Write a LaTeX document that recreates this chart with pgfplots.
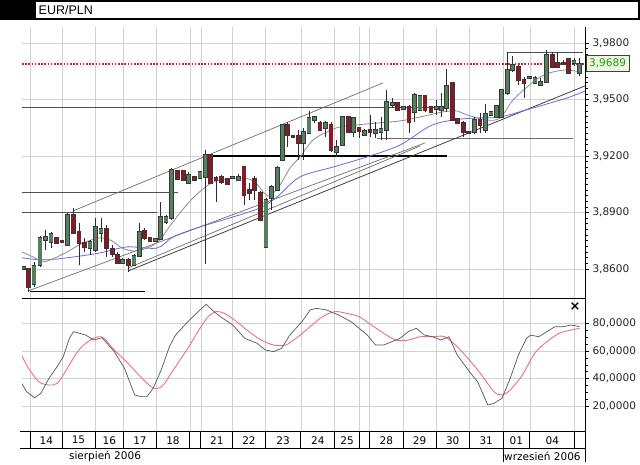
\documentclass[border=0pt]{standalone}
\usepackage{fontspec}
\setmainfont{DejaVu Sans}
\newfontfamily\titlefont{Liberation Sans}
\usepackage{pgfplots}
\usepackage{pgfplotstable}
\pgfplotsset{compat=1.18}
\definecolor{upg}{RGB}{86,128,92}
\definecolor{dnr}{RGB}{140,24,36}
\definecolor{outl}{RGB}{55,55,55}
\definecolor{wick}{RGB}{45,45,45}
\definecolor{gridc}{RGB}{210,210,210}
\definecolor{maGray}{RGB}{140,140,140}
\definecolor{maBlue}{RGB}{105,105,228}
\definecolor{trendc}{RGB}{110,110,110}
\definecolor{hlinec}{RGB}{80,80,80}
\definecolor{kcol}{RGB}{85,85,85}
\definecolor{dcol}{RGB}{235,115,115}
\definecolor{pricered}{RGB}{215,30,30}
\definecolor{boxfill}{RGB}{238,247,218}
\definecolor{boxtext}{RGB}{40,150,40}

% up candles: close >= open
\pgfplotstableread{
x o h l c
23.5 3.8600 3.8616 3.8595 3.8611
34.0 3.8520 3.8637 3.8504 3.8616
40.0 3.8621 3.8775 3.8611 3.8765
45.5 3.8754 3.8807 3.8701 3.8770
51.0 3.8743 3.8797 3.8711 3.8786
67.7 3.8728 3.8898 3.8722 3.8887
90.0 3.8711 3.8754 3.8675 3.8743
95.7 3.8701 3.8871 3.8690 3.8823
101.0 3.8791 3.8871 3.8743 3.8812
122.7 3.8632 3.8659 3.8627 3.8648
134.0 3.8621 3.8680 3.8616 3.8669
139.3 3.8669 3.8844 3.8664 3.8797
155.7 3.8749 3.8759 3.8743 3.8759
160.7 3.8759 3.8956 3.8754 3.8876
166.0 3.8850 3.8887 3.8839 3.8876
171.7 3.8871 3.9136 3.8860 3.9126
188.5 3.9057 3.9115 3.9051 3.9099
200.0 3.9083 3.9120 3.9078 3.9115
205.5 3.9089 3.9232 3.8627 3.9205
232.7 3.9083 3.9089 3.9083 3.9089
238.3 3.9073 3.9104 3.9067 3.9089
266.0 3.8717 3.8977 3.8717 3.8967
271.7 3.8977 3.9046 3.8914 3.9035
277.3 3.9020 3.9147 3.9020 3.9136
282.7 3.9179 3.9370 3.9179 3.9365
303.3 3.9269 3.9349 3.9179 3.9327
309.0 3.9322 3.9439 3.9317 3.9402
314.3 3.9391 3.9412 3.9375 3.9407
325.7 3.9349 3.9386 3.9301 3.9375
336.7 3.9221 3.9285 3.9195 3.9248
342.3 3.9258 3.9412 3.9253 3.9407
353.3 3.9327 3.9407 3.9301 3.9402
364.3 3.9311 3.9343 3.9306 3.9333
375.7 3.9322 3.9380 3.9295 3.9338
381.0 3.9327 3.9407 3.9285 3.9343
386.7 3.9338 3.9550 3.9285 3.9487
392.7 3.9471 3.9508 3.9455 3.9481
403.3 3.9450 3.9465 3.9444 3.9460
414.3 3.9434 3.9534 3.9380 3.9524
420.0 3.9444 3.9524 3.9439 3.9519
436.5 3.9450 3.9497 3.9418 3.9460
441.7 3.9444 3.9534 3.9407 3.9460
446.7 3.9455 3.9662 3.9434 3.9572
474.2 3.9327 3.9407 3.9317 3.9391
485.7 3.9338 3.9476 3.9322 3.9423
491.0 3.9418 3.9439 3.9412 3.9434
496.7 3.9407 3.9471 3.9402 3.9465
501.7 3.9407 3.9556 3.9402 3.9550
507.3 3.9534 3.9752 3.9524 3.9657
512.7 3.9657 3.9731 3.9646 3.9683
529.3 3.9614 3.9625 3.9609 3.9619
535.0 3.9588 3.9625 3.9582 3.9614
540.7 3.9577 3.9614 3.9572 3.9593
546.7 3.9593 3.9763 3.9588 3.9736
574.0 3.9694 3.9720 3.9678 3.9704
579.3 3.9641 3.9720 3.9625 3.9689
}\upc

% down candles: close < open
\pgfplotstableread{
x o h l c
28.3 3.8600 3.8605 3.8478 3.8504
56.5 3.8765 3.8770 3.8733 3.8738
62.0 3.8749 3.8749 3.8743 3.8743
73.3 3.8887 3.8924 3.8786 3.8791
79.0 3.8797 3.8844 3.8621 3.8738
84.3 3.8738 3.8765 3.8690 3.8717
106.7 3.8812 3.8834 3.8664 3.8711
112.3 3.8706 3.8728 3.8664 3.8680
117.7 3.8675 3.8690 3.8627 3.8632
128.3 3.8648 3.8659 3.8584 3.8621
144.5 3.8802 3.8818 3.8754 3.8765
150.0 3.8765 3.8770 3.8743 3.8749
177.5 3.9120 3.9126 3.9073 3.9078
183.3 3.9120 3.9126 3.9067 3.9073
194.3 3.9089 3.9094 3.9067 3.9073
210.7 3.9205 3.9211 3.9051 3.9057
216.0 3.9083 3.9094 3.8956 3.9073
221.7 3.9089 3.9099 3.9051 3.9062
227.3 3.9078 3.9083 3.9046 3.9051
244.0 3.9141 3.9147 3.8940 3.8993
249.3 3.9020 3.9057 3.8967 3.9004
254.3 3.9078 3.9094 3.8967 3.9020
260.7 3.9004 3.9014 3.8860 3.8860
287.7 3.9365 3.9380 3.9248 3.9311
293.0 3.9306 3.9311 3.9301 3.9301
298.3 3.9306 3.9338 3.9179 3.9269
320.0 3.9375 3.9386 3.9333 3.9338
331.0 3.9365 3.9380 3.9221 3.9232
348.3 3.9407 3.9412 3.9322 3.9327
359.0 3.9349 3.9354 3.9295 3.9333
370.0 3.9338 3.9418 3.9301 3.9327
397.7 3.9481 3.9487 3.9439 3.9444
409.0 3.9460 3.9471 3.9322 3.9380
425.0 3.9519 3.9524 3.9434 3.9444
431.0 3.9460 3.9465 3.9428 3.9434
452.3 3.9588 3.9593 3.9386 3.9391
457.7 3.9396 3.9402 3.9370 3.9375
463.3 3.9375 3.9386 3.9301 3.9327
468.3 3.9327 3.9333 3.9317 3.9322
480.0 3.9391 3.9428 3.9322 3.9365
518.3 3.9672 3.9683 3.9577 3.9603
524.0 3.9603 3.9619 3.9508 3.9588
552.3 3.9736 3.9752 3.9667 3.9672
557.3 3.9694 3.9752 3.9667 3.9672
563.3 3.9694 3.9710 3.9683 3.9688
568.3 3.9715 3.9720 3.9635 3.9641
}\dnc

\pgfplotsset{
  numfmt/.style={
    /pgf/number format/fixed, /pgf/number format/fixed zerofill,
    /pgf/number format/precision=4, /pgf/number format/use comma,
    /pgf/number format/1000 sep={}, /pgf/number format/assume math mode=true},
  bodyplot/.style 2 args={only marks, mark=*, mark size=0pt,
    mark options={draw opacity=0, fill opacity=0}, forget plot,
    error bars/.cd, y dir=plus, y explicit, error mark=none,
    error bar style={draw=#1, line width=#2, draw opacity=1}},
  panel/.style={scale only axis, width=563pt, xmin=22, xmax=585,
    axis line style={draw=none},
    xtick pos=bottom, ytick pos=right, yticklabel pos=right,
    tick align=outside, major tick length=4pt, minor tick length=2.5pt,
    ytick style={black, line width=0.5pt},
    major grid style={gridc, line width=0.6pt},
    yticklabel style={font=\fontsize{10.5}{12}\selectfont, text=black!85, numfmt}},
}

\begin{document}
\begin{tikzpicture}[x=1pt,y=1pt]
% title bar
\fill[black] (0,444) rectangle (640,464);
\fill[white] (36,446) rectangle (638,462);
\node[anchor=west, font=\titlefont\fontsize{12.5}{14}\selectfont, inner sep=0pt] at (38.5,454) {EUR/PLN};

\begin{axis}[panel,
  name=main, at={(22pt,165.5pt)}, anchor=south west,
  height=271.5pt, ymin=3.8443, ymax=3.98849,
  xtick={30.6,62,95,123.7,156.3,189.8,200.8,232.7,265.3,300.8,334.7,359.2,369.4,403.3,435.9,469.4,502.9,529.8,574.7},
  xticklabels={}, xtick style={draw=none},
  ytick={3.86,3.89,3.92,3.95,3.98}, minor y tick num=9,
  grid=major,
]
% horizontal support/resistance lines
\addplot[hlinec, line width=0.9pt] coordinates {(22,3.9455) (445,3.9455)};
\addplot[hlinec, line width=1.1pt] coordinates {(22,3.9004) (178,3.9004)};
\addplot[hlinec, line width=1.1pt] coordinates {(22,3.8898) (157,3.8898)};
\addplot[black, line width=1.1pt] coordinates {(30,3.8478) (145,3.8478)};
\addplot[black, line width=1.1pt] coordinates {(205,3.9200) (447,3.9200)};
\addplot[trendc, line width=0.9pt] coordinates {(377,3.9295) (573,3.9295)};
\addplot[hlinec, line width=0.9pt] coordinates {(507,3.9752) (583,3.9752)};
% trend lines
\addplot[trendc, line width=0.7pt] coordinates {(73,3.8908) (383,3.9588)};
\addplot[trendc, line width=0.7pt] coordinates {(28,3.8483) (425,3.9269)};
\addplot[trendc, line width=0.7pt] coordinates {(128,3.8605) (420,3.9253)};
\addplot[black!75, line width=0.8pt] coordinates {(128,3.8589) (585,3.9572)};
% moving averages
\addplot[maBlue, line width=0.8pt, smooth] coordinates {
(22,3.8659) (43,3.8648) (67,3.8659) (100,3.8685) (127,3.8717) (157,3.8711)
(173,3.8770) (200,3.8823) (233,3.8876) (260,3.8924) (277,3.8982) (300,3.9089)
(333,3.9141) (367,3.9195) (400,3.9258) (430,3.9359) (453,3.9391) (477,3.9402)
(500,3.9407) (533,3.9455) (567,3.9508) (585,3.9545)};
\addplot[maGray, line width=0.8pt, smooth] coordinates {
(22,3.8690) (33,3.8664) (43,3.8637) (55,3.8659) (67,3.8690) (83,3.8738)
(100,3.8765) (112,3.8749) (122,3.8711) (135,3.8695) (150,3.8717) (160,3.8754)
(167,3.8807) (180,3.8898) (193,3.8977) (207,3.9041) (220,3.9073) (243,3.9083)
(255,3.9062) (263,3.9009) (270,3.8988) (280,3.9046) (290,3.9136) (300,3.9195)
(313,3.9285) (327,3.9327) (340,3.9354) (367,3.9370) (400,3.9386) (420,3.9407)
(443,3.9434) (457,3.9439) (467,3.9418) (487,3.9391) (500,3.9402) (513,3.9497)
(527,3.9566) (540,3.9619) (553,3.9646) (567,3.9657) (580,3.9646)};
% current price line
\addplot[pricered, line width=1.3pt, dash pattern=on 1.6pt off 1.6pt] coordinates {(22,3.9689) (585,3.9689)};
% candles: wicks
\addplot[bodyplot={wick}{0.8pt}] table[x=x, y=l, y error plus expr=\thisrow{h}-\thisrow{l}] {\upc};
\addplot[bodyplot={wick}{0.8pt}] table[x=x, y=l, y error plus expr=\thisrow{h}-\thisrow{l}] {\dnc};
% candles: body outlines
\addplot[bodyplot={outl}{4.8pt}] table[x=x, y expr=\thisrow{o}-0.0004, y error plus expr=\thisrow{c}-\thisrow{o}+0.0008] {\upc};
\addplot[bodyplot={outl}{4.8pt}] table[x=x, y expr=\thisrow{c}-0.0004, y error plus expr=\thisrow{o}-\thisrow{c}+0.0008] {\dnc};
% candles: body fills
\addplot[bodyplot={upg}{3.2pt}] table[x=x, y=o, y error plus expr=\thisrow{c}-\thisrow{o}] {\upc};
\addplot[bodyplot={dnr}{3.2pt}] table[x=x, y=c, y error plus expr=\thisrow{o}-\thisrow{c}] {\dnc};
\end{axis}

\begin{axis}[panel,
  name=lower, at={(22pt,32.3pt)}, anchor=south west,
  height=133.2pt, ymin=1.5, ymax=98,
  xtick={46.3,78.5,109.4,140,173,216.8,249,283,317.8,347,386.4,419.6,452.7,486.2,516.4,552.3},
  xticklabels={14,15,16,17,18,21,22,23,24,25,28,29,30,31,01,04},
  xtick style={draw=none},
  xticklabel style={font=\fontsize{10.5}{12}\selectfont, anchor=center, yshift=-4.5pt},
  extra x ticks={30.6,62,95,123.7,156.3,189.8,200.8,232.7,265.3,300.8,334.7,359.2,369.4,403.3,435.9,469.4,502.9,529.8,574.7},
  extra x tick labels={}, extra x tick style={xmajorgrids=true},
  ytick={20,40,60,80}, minor y tick num=3,
  ymajorgrids=true,
]
\addplot[dcol, line width=0.9pt, smooth] coordinates {
(22,56.5) (28.6,47.4) (38.8,37.7) (49.0,35.3) (57.1,36.5) (65.3,45.0) (77.6,59.5)
(87.8,66.7) (98.0,70.3) (104.1,69.1) (114.3,60.7) (126.5,52.2) (138.8,42.6)
(151.0,34.1) (157.1,32.9) (163.3,35.3) (175.5,48.6) (187.8,61.9) (200.0,76.4)
(208.2,84.8) (216.3,88.5) (224.5,87.2) (236.7,81.2) (249.0,74.0) (261.2,67.9)
(273.5,64.3) (285.7,64.3) (298.0,70.3) (310.2,77.6) (322.4,84.8) (334.7,88.5)
(346.9,87.2) (359.2,84.8) (371.4,78.8) (383.7,72.8) (395.9,67.9) (408.2,67.9)
(420.4,70.3) (432.7,70.3) (444.9,70.3) (457.1,63.1) (469.4,53.4) (481.6,42.6)
(493.9,30.5) (502.0,28.1) (510.2,31.7) (522.4,42.6) (534.7,58.3) (546.9,66.7)
(559.2,72.8) (571.4,75.2) (579.6,76.4)};
\addplot[kcol, line width=0.7pt] coordinates {
(22,36.2) (26.5,30.5) (34.7,26.1) (40.8,29.3) (49.0,40.2) (57.1,48.6) (63.3,55.9)
(69.4,69.1) (73.5,74.0) (79.6,72.8) (85.7,71.5) (93.9,67.9) (102.0,69.6)
(114.3,59.5) (124.5,47.4) (134.7,28.1) (140.8,26.9) (146.9,26.9) (153.1,32.9)
(161.2,46.2) (169.4,63.1) (175.5,71.5) (187.8,81.2) (200.0,89.7) (206.1,93.8)
(212.2,89.7) (220.4,84.8) (232.7,78.8) (244.9,69.1) (257.1,65.5) (265.3,60.7)
(273.5,59.5) (281.6,61.9) (289.8,71.5) (302.0,81.2) (310.2,89.7) (316.3,90.9)
(326.5,89.7) (338.8,86.0) (351.0,81.2) (359.2,76.4) (367.3,71.5) (375.5,64.3)
(383.7,64.3) (391.8,66.7) (400.0,69.1) (408.2,74.0) (416.3,76.4) (424.5,71.5)
(432.7,70.3) (440.8,67.9) (449.0,70.3) (457.1,57.1) (469.4,45.0) (477.6,37.7)
(487.8,20.8) (493.9,22.0) (502.0,25.7) (510.2,40.2) (518.4,57.1) (526.5,69.1)
(530.6,71.5) (538.8,70.3) (546.9,74.0) (555.1,77.6) (563.3,77.6) (571.4,78.8)
(579.6,77.6)};
\end{axis}

% panel borders (right axis line and pane separators)
\draw[black, line width=0.8pt] (585,437) -- (585,2);
\draw[black, line width=0.9pt] (22,165.5) -- (585,165.5);
\draw[black, line width=0.8pt] (20,32.3) -- (585,32.3);

% current price tag
\node[draw=black!75, fill=boxfill, text=boxtext, font=\fontsize{10.5}{12}\selectfont,
      inner xsep=3.5pt, inner ysep=0pt, minimum height=16pt, anchor=west] at (585.5,400.5) {3,9689};

% close marker of the oscillator pane
\node[font=\bfseries\fontsize{13}{14}\selectfont, inner sep=0pt] at (575,157) {×};

% date strip
\draw[black, line width=0.8pt] (20,16) -- (585,16);
\foreach \xx in {30.6,62,95,123.7,156.3,189.8,200.8,232.7,265.3,300.8,334.7,359.2,369.4,403.3,435.9,469.4,502.9,529.8,574.7}
  \draw[black, line width=0.8pt] (\xx,32.3) -- (\xx,16);
\draw[black, line width=0.8pt] (502.9,16) -- (502.9,2);
\node[font=\fontsize{10.5}{12}\selectfont, inner sep=0pt] at (105,8) {sierpień 2006};
\node[font=\fontsize{10.5}{12}\selectfont, inner sep=0pt, anchor=west] at (504,8) {wrzesień 2006};

\pgfresetboundingbox
\path[use as bounding box] (0,0) rectangle (640,464);
\end{tikzpicture}
\end{document}
